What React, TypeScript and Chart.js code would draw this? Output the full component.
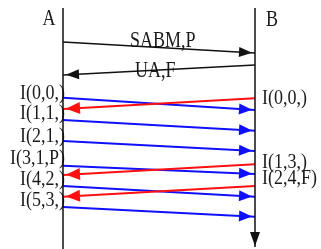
import { useEffect, useRef } from "react";
import { Chart, registerables } from "chart.js";

Chart.register(...registerables);

// Stations (lifelines)
const stations = ["A", "B"];
const stationX = [0, 1];
const lifelineStartT = [8, 8];
const lifelineEndT = [249, 247];
const stationLabelT = [19, 20];

// Control frames
const controlLabels = ["SABM,P", "UA,F"];
const controlFrom = [0, 1];
const controlSendT = [42, 65];
const controlRecvT = [53, 75];
const controlLabelX = [0.52, 0.48];
const controlLabelT = [41, 71];

// I-frames A -> B
const aToBLabels = ["I(0,0,)", "I(1,1,)", "I(2,1,)", "I(3,1,P)", "I(4,2,)", "I(5,3,)"];
const aToBSendT = [97.7, 120, 141, 165.7, 186, 207];
const aToBRecvT = [110, 130.7, 151, 174, 196.7, 216.7];
const aLabelT = [93, 113, 136, 158, 179, 200];

// I-frames B -> A
const bToALabels = ["I(0,0,)", "I(1,3,)", "I(2,4,F)"];
const bToASendT = [98.3, 164.3, 186];
const bToARecvT = [109, 175, 196.7];
const bLabelT = [98, 162, 178];

const W = 321;
const H = 249;

type Arrow = { ds: number; len: number; half: number; back: number; color: string };
type Label = { text: string; x: number; t: number; dx: number; align: CanvasTextAlign; size: number; sy: number };

export default function App() {
  const ref = useRef<HTMLCanvasElement | null>(null);

  useEffect(() => {
    if (!ref.current) return;
    const datasets: any[] = [];
    const arrows: Arrow[] = [];
    const labels: Label[] = [];

    const addLine = (pts: { x: number; y: number }[], color: string, width: number) => {
      datasets.push({
        data: pts,
        showLine: true,
        borderColor: color,
        backgroundColor: color,
        borderWidth: width,
        pointRadius: 0,
        pointHoverRadius: 0,
        tension: 0,
        clip: false,
      });
      return datasets.length - 1;
    };

    // lifelines
    stations.forEach((s, i) => {
      const ds = addLine(
        [
          { x: stationX[i], y: lifelineStartT[i] },
          { x: stationX[i], y: lifelineEndT[i] },
        ],
        "#111",
        1.5
      );
      if (i === 1) arrows.push({ ds, len: 14, half: 5, back: 1, color: "#111" });
      labels.push({ text: s, x: stationX[i], t: stationLabelT[i], dx: i === 0 ? -14 : 17, align: "center", size: 18, sy: 1.3 });
    });

    // control frames
    controlLabels.forEach((l, i) => {
      const from = controlFrom[i];
      const to = 1 - from;
      const ds = addLine(
        [
          { x: stationX[from], y: controlSendT[i] },
          { x: stationX[to], y: controlRecvT[i] },
        ],
        "#111",
        1.5
      );
      arrows.push({ ds, len: 13, half: 5, back: 3, color: "#111" });
      labels.push({ text: l, x: controlLabelX[i], t: controlLabelT[i], dx: 0, align: "center", size: 18, sy: 1.3 });
    });

    // B -> A (red)
    bToALabels.forEach((l, i) => {
      const ds = addLine(
        [
          { x: stationX[1], y: bToASendT[i] },
          { x: stationX[0], y: bToARecvT[i] },
        ],
        "#ff1010",
        2
      );
      arrows.push({ ds, len: 14, half: 6, back: 3, color: "#ff1010" });
      labels.push({ text: l, x: stationX[1], t: bLabelT[i], dx: 7, align: "left", size: 18, sy: 1.22 });
    });

    // A -> B (blue)
    aToBLabels.forEach((l, i) => {
      const ds = addLine(
        [
          { x: stationX[0], y: aToBSendT[i] },
          { x: stationX[1], y: aToBRecvT[i] },
        ],
        "#1010ff",
        2
      );
      arrows.push({ ds, len: 13, half: 5.5, back: 3, color: "#1010ff" });
      labels.push({ text: l, x: stationX[0], t: aLabelT[i], dx: 2, align: "right", size: 18, sy: 1.22 });
    });

    const textPlugin = {
      id: "seqText",
      beforeDatasetsDraw(chart: any) {
        const ctx = chart.ctx as CanvasRenderingContext2D;
        const xs = chart.scales.x;
        const ys = chart.scales.y;
        labels.forEach((lb) => {
          const px = xs.getPixelForValue(lb.x) + lb.dx;
          const py = ys.getPixelForValue(lb.t);
          ctx.save();
          ctx.translate(px, py);
          ctx.scale(1, lb.sy);
          ctx.font = `${lb.size}px "Liberation Serif", "DejaVu Serif", serif`;
          ctx.fillStyle = "#1a1a1a";
          ctx.textAlign = lb.align;
          ctx.textBaseline = "middle";
          ctx.fillText(lb.text, 0, 0);
          ctx.restore();
        });
      },
    };

    const arrowPlugin = {
      id: "seqArrows",
      afterDatasetsDraw(chart: any) {
        const ctx = chart.ctx as CanvasRenderingContext2D;
        arrows.forEach((a) => {
          const meta = chart.getDatasetMeta(a.ds);
          const p0 = meta.data[0];
          const p1 = meta.data[meta.data.length - 1];
          const dx = p1.x - p0.x;
          const dy = p1.y - p0.y;
          const d = Math.hypot(dx, dy) || 1;
          const ux = dx / d;
          const uy = dy / d;
          const tx = p1.x - ux * a.back;
          const ty = p1.y - uy * a.back;
          const bx = tx - ux * a.len;
          const by = ty - uy * a.len;
          ctx.save();
          ctx.fillStyle = a.color;
          ctx.beginPath();
          ctx.moveTo(tx, ty);
          ctx.lineTo(bx - uy * a.half, by + ux * a.half);
          ctx.lineTo(bx + uy * a.half, by - ux * a.half);
          ctx.closePath();
          ctx.fill();
          ctx.restore();
        });
      },
    };

    const chart = new Chart(ref.current, {
      type: "scatter",
      data: { datasets },
      options: {
        responsive: false,
        maintainAspectRatio: false,
        animation: false,
        events: [],
        layout: { padding: 0 },
        plugins: { legend: { display: false }, tooltip: { enabled: false } },
        scales: {
          x: { type: "linear", display: false, min: -0.328125, max: 1.34375 },
          y: { type: "linear", display: false, min: 0, max: H, reverse: true },
        },
      },
      plugins: [textPlugin, arrowPlugin],
    });
    return () => chart.destroy();
  }, []);

  return (
    <div style={{ position: "fixed", left: 0, top: 0, width: W, height: H, background: "#fff" }}>
      <canvas ref={ref} width={W} height={H} style={{ display: "block", width: W, height: H }} />
    </div>
  );
}
